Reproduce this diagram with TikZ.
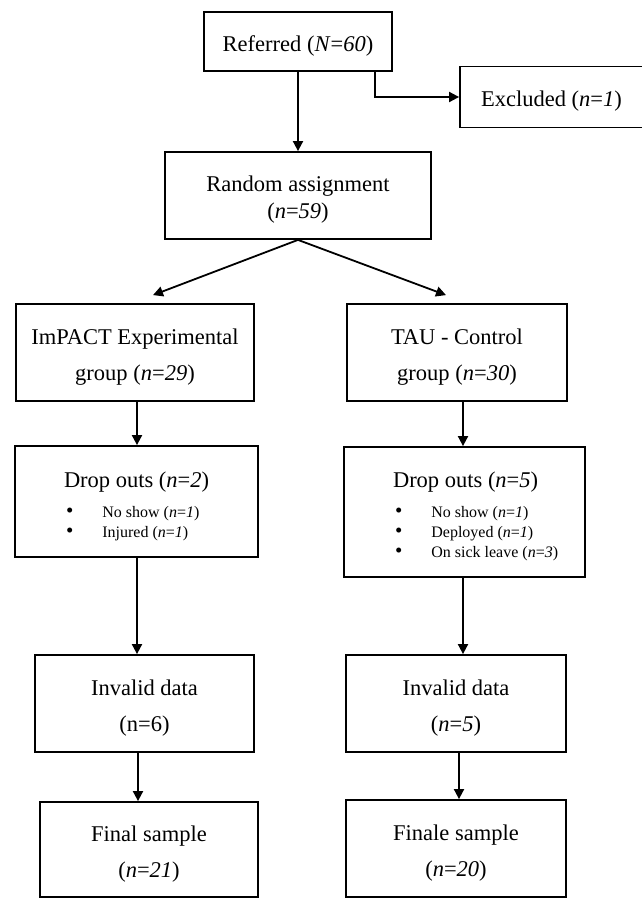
\documentclass[tikz,border=0pt]{standalone}
\usepackage{fontspec}
\usepackage{array}
\setmainfont{Liberation Serif}
\usetikzlibrary{arrows.meta}

\begin{document}
\begin{tikzpicture}[x=1pt,y=-1pt]
  \tikzset{
    box/.style={draw, line width=1.8pt, align=center, inner sep=0pt,
      font=\fontsize{22.5}{36}\selectfont,
      execute at begin node={\rule{0pt}{24pt}}},
    dropbox/.style={box, align=left, inner xsep=49pt,
      font=\fontsize{22.5}{30}\selectfont,
      execute at begin node={\rule{0pt}{27pt}}},
    flow/.style={line width=1.8pt, -{Triangle[length=10pt,width=10pt]}}
  }
  \useasboundingbox (0,0) rectangle (641,899);

  % Enrolment
  \node[box, minimum width=188pt, minimum height=59pt] (ref) at (298,41.5)
    {Referred (\textit{N}=\textit{60})};
  \node[box, minimum width=183pt, minimum height=61pt] (excl) at (551.5,97)
    {Excluded (\textit{n}=\textit{1})};
  \node[box, minimum width=266pt, minimum height=87pt,
    font=\fontsize{22.5}{27}\selectfont] (rand) at (298,195.5)
    {\rule{0pt}{24pt}Random assignment\\(\textit{n}=\textit{59})};

  % Experimental arm
  \node[box, minimum width=238pt, minimum height=97pt] (expgrp) at (135,352.5)
    {\rule{0pt}{24pt}ImPACT Experimental\\group (\textit{n}=\textit{29})};
  \node[dropbox, text width=145pt, minimum height=111pt] (expdrop) at (136.5,501.5)
    {\hbox to\linewidth{\spaceskip0pt Drop outs (\textit{n}=\textit{2})\hss}\\
     \hbox to\linewidth{\fontsize{16}{20}\selectfont\spaceskip0pt
       \begin{tabular}[t]{@{\hspace{2pt}}>{\fontsize{21}{20}\selectfont}l@{\hspace{29pt}}l@{}}
         \textbullet & No show (\textit{n}=\textit{1})\\
         \textbullet & Injured (\textit{n}=\textit{1})
       \end{tabular}\hss}};
  \node[box, minimum width=219pt, minimum height=97pt] (expinv) at (144.5,703.5)
    {\rule{0pt}{24pt}Invalid data\\(n=6)};
  \node[box, minimum width=218pt, minimum height=95pt] (expfin) at (149,849.5)
    {\rule{0pt}{24pt}Final sample\\(\textit{n}=\textit{21})};

  % Control arm
  \node[box, minimum width=220pt, minimum height=97pt] (ctlgrp) at (457,352.5)
    {\rule{0pt}{24pt}TAU - Control\\group (\textit{n}=\textit{30})};
  \node[dropbox, text width=143pt, minimum height=130pt] (ctldrop) at (464.5,512)
    {\hbox to\linewidth{\spaceskip0pt Drop outs (\textit{n}=\textit{5})\hss}\\
     \hbox to\linewidth{\fontsize{16}{20}\selectfont\spaceskip0pt
       \begin{tabular}[t]{@{\hspace{2pt}}>{\fontsize{21}{20}\selectfont}l@{\hspace{29pt}}l@{}}
         \textbullet & No show (\textit{n}=\textit{1})\\
         \textbullet & Deployed (\textit{n}=\textit{1})\\
         \textbullet & On sick leave (\textit{n}=\textit{3})
       \end{tabular}\hss}};
  \node[box, minimum width=220pt, minimum height=97pt] (ctlinv) at (456,703.5)
    {\rule{0pt}{24pt}Invalid data\\(\textit{n}=\textit{5})};
  \node[box, minimum width=220pt, minimum height=97pt] (ctlfin) at (456,848.5)
    {\rule{0pt}{24pt}Finale sample\\(\textit{n}=\textit{20})};

  % Connectors
  \coordinate (expin) at ([shift={(18pt,8pt)}]expgrp.north);
  \coordinate (ctlin) at ([shift={(-11pt,8pt)}]ctlgrp.north);
  \draw[flow] (ref) -- (rand);
  \draw[flow] ([xshift=77pt]ref.south) |- (excl.west);
  \draw[flow] (rand.south) -- (expin);
  \draw[flow] (rand.south) -- (ctlin);
  \draw[flow] ([xshift=2pt]expgrp.south) -- ([xshift=2pt]expgrp.south |- expdrop.north);
  \draw[flow] ([xshift=0.5pt]expdrop.south) -- ([xshift=0.5pt]expdrop.south |- expinv.north);
  \draw[flow] ([xshift=-6.5pt]expinv.south) -- ([xshift=-6.5pt]expinv.south |- expfin.north);
  \draw[flow] ([xshift=6pt]ctlgrp.south) -- ([xshift=6pt]ctlgrp.south |- ctldrop.north);
  \draw[flow] ([xshift=-1.5pt]ctldrop.south) -- ([xshift=-1.5pt]ctldrop.south |- ctlinv.north);
  \draw[flow] ([xshift=3pt]ctlinv.south) -- ([xshift=3pt]ctlinv.south |- ctlfin.north);
\end{tikzpicture}
\end{document}
